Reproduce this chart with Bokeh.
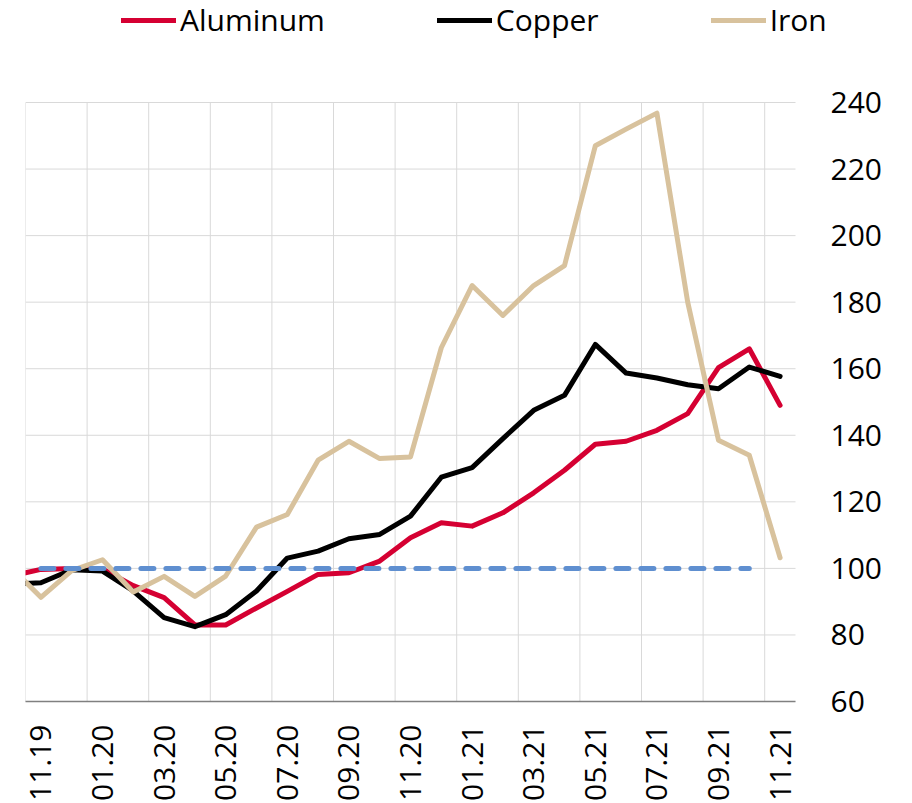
import math
from bokeh.plotting import figure
from bokeh.models import Range1d, FixedTicker, Legend, LegendItem
from bokeh.embed import file_html
from bokeh.resources import INLINE

# ---- data -------------------------------------------------------------
months = ["10.19", "11.19", "12.19", "01.20", "02.20", "03.20", "04.20",
          "05.20", "06.20", "07.20", "08.20", "09.20", "10.20", "11.20",
          "12.20", "01.21", "02.21", "03.21", "04.21", "05.21", "06.21",
          "07.21", "08.21", "09.21", "10.21", "11.21"]
month_pos = list(range(-1, 25))   # category index (11.19 = 0)

aluminum = [97.7, 99.7, 100.0, 99.8, 94.8, 91.2, 83.0, 83.0, 88.1, 93.1,
            98.2, 98.7, 102.2, 109.2, 113.7, 112.7, 116.7, 122.7, 129.5,
            137.3, 138.2, 141.5, 146.5, 160.3, 166.0, 149.0]
copper = [95.2, 95.7, 99.6, 99.2, 93.2, 85.2, 82.5, 86.1, 93.2, 103.1,
          105.2, 108.9, 110.2, 115.7, 127.4, 130.3, 139.0, 147.5, 152.0,
          167.3, 158.7, 157.2, 155.2, 154.0, 160.5, 157.7]
iron = [100.6, 91.3, 99.3, 102.6, 92.9, 97.6, 91.6, 97.7, 112.4, 116.2,
        132.5, 138.2, 133.0, 133.5, 166.3, 185.0, 176.0, 185.0, 191.0,
        227.0, 232.0, 236.8, 180.0, 138.5, 134.0, 103.2]
baseline_pos = month_pos[1:25]          # 11.19 .. 10.21
baseline = [100] * len(baseline_pos)

label_ticks = [0, 2, 4, 6, 8, 10, 12, 14, 16, 18, 20, 22, 24]
grid_ticks = [-0.5, 1.5, 3.5, 5.5, 7.5, 9.5, 11.5, 13.5, 15.5, 17.5,
              19.5, 21.5, 23.5]
y_ticks = [60, 80, 100, 120, 140, 160, 180, 200, 220, 240]
x_min, x_max = -0.5, 24.5
y_min, y_max = 60, 240

FONT = "Open Sans"

# layout (pixels)
W, H = 910, 803
FRAME_L = 25            # left edge of the plotting area
AREA_R = 795            # right edge of the gridded area
FRAME_R = 830           # frame extends a bit further so the legend is not clipped
PLOT_TOP, PLOT_BOTTOM = 102, 701     # pixel rows of 240 and 60
px_per_unit = (PLOT_BOTTOM - PLOT_TOP) / (y_max - y_min)
px_per_cat = (AREA_R - FRAME_L) / (x_max - x_min)
y_top = y_max + PLOT_TOP / px_per_unit
x_right = x_max + (FRAME_R - AREA_R) / px_per_cat

p = figure(width=W, height=H, output_backend="svg", toolbar_location=None,
           x_range=Range1d(x_min, x_right), y_range=Range1d(y_min, y_top),
           y_axis_location="right",
           min_border_left=FRAME_L, min_border_right=W - FRAME_R,
           min_border_top=0, min_border_bottom=H - PLOT_BOTTOM)
p.outline_line_color = None
p.background_fill_color = "white"

# grid drawn as segments limited to the gridded area
p.xgrid.visible = False
p.ygrid.visible = False
p.segment(x0=grid_ticks, y0=[y_min] * len(grid_ticks),
          x1=grid_ticks, y1=[y_max] * len(grid_ticks),
          line_color="#d9d9d9", line_width=1)
p.segment(x0=[x_min] * len(y_ticks), y0=y_ticks,
          x1=[x_max] * len(y_ticks), y1=y_ticks,
          line_color="#d9d9d9", line_width=1)

# x axis
xa = p.xaxis[0]
xa.bounds = (x_min, x_max)
xa.ticker = FixedTicker(ticks=label_ticks)
xa.major_label_overrides = {t: months[t + 1] for t in label_ticks}
xa.major_label_orientation = math.pi / 2
xa.major_label_text_font = FONT
xa.major_label_text_font_size = "30px"
xa.major_label_text_color = "black"
xa.major_label_standoff = 23
xa.major_tick_in = 0
xa.major_tick_out = 0
xa.minor_tick_in = 0
xa.minor_tick_out = 0
xa.axis_line_color = "#808080"
xa.axis_line_width = 1.5

# y axis (right)
ya = p.yaxis[0]
ya.ticker = FixedTicker(ticks=y_ticks)
ya.major_label_text_font = FONT
ya.major_label_text_font_size = "30px"
ya.major_label_text_color = "black"
ya.major_label_standoff = 0
ya.major_tick_in = 0
ya.major_tick_out = 0
ya.minor_tick_in = 0
ya.minor_tick_out = 0
ya.axis_line_color = None

# lines
r_al = p.line(month_pos, aluminum, line_color="#d50032", line_width=5,
              line_join="round", line_cap="round")
r_cu = p.line(month_pos, copper, line_color="#000000", line_width=5,
              line_join="round", line_cap="round")
r_fe = p.line(month_pos, iron, line_color="#d8c29d", line_width=5,
              line_join="round", line_cap="round")
p.line(baseline_pos, baseline, line_color="#5f8fd0", line_width=5,
       line_dash="13 12", line_cap="round")

legend = Legend(items=[LegendItem(label="Aluminum", renderers=[r_al]),
                       LegendItem(label="Copper", renderers=[r_cu]),
                       LegendItem(label="Iron", renderers=[r_fe])],
                orientation="horizontal",
                location=(121 - FRAME_L, PLOT_BOTTOM - 40),
                glyph_width=55, glyph_height=30, label_standoff=4,
                spacing=112, padding=0, margin=0,
                label_text_font=FONT, label_text_font_size="30px",
                label_text_color="black",
                border_line_color=None, background_fill_alpha=0)
p.add_layout(legend, "center")

open("out.html", "w").write(file_html(p, INLINE))
